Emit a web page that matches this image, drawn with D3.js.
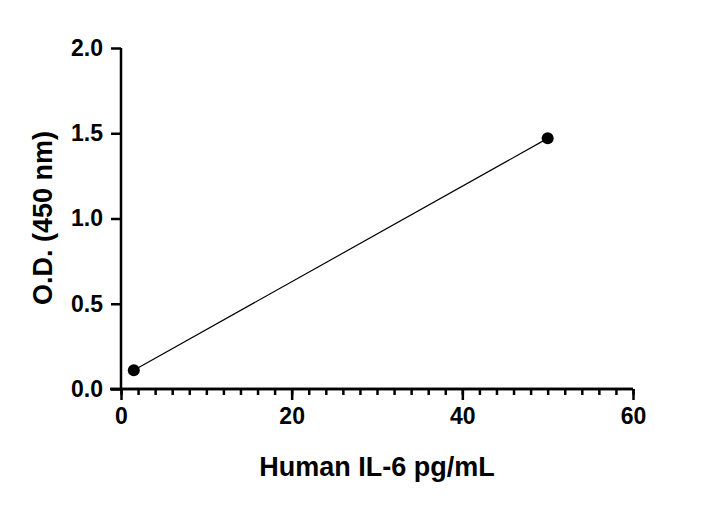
<!DOCTYPE html><html><head><script src="https://cdn.jsdelivr.net/npm/d3@7"></script>
<style>body{margin:0;background:#fff}text{font-family:Arial,"Liberation Sans",sans-serif;font-weight:bold}</style></head><body>
<svg width="715" height="507"></svg>
<script>
const concentrations=[1.5,50];
const od=[0.11,1.47];
const xTicks=[0,20,40,60];
const yTicks=[0,0.5,1.0,1.5,2.0];
const svg=d3.select("svg");
const x=d3.scaleLinear().domain([0,60]).range([121,633]);
const y=d3.scaleLinear().domain([0,2]).range([389,48]);
const gx=svg.append("g").attr("transform","translate(0,389)");
gx.call(d3.axisBottom(x).tickValues(d3.range(0,61,2)).tickFormat("").tickSize(6).tickSizeOuter(0));
gx.append("g").call(d3.axisBottom(x).tickValues(xTicks).tickFormat(d3.format("d")).tickSize(11).tickSizeOuter(0));
gx.selectAll("path.domain").attr("d","M110,0H633");
gx.selectAll("line,path").attr("stroke","#000").attr("stroke-width",2.5);
gx.selectAll("text").style("font-size","23px").attr("fill","#000").attr("y",17).attr("dy","0.8em");
const gy=svg.append("g").attr("transform","translate(121,0)");
gy.call(d3.axisLeft(y).tickValues(yTicks).tickFormat(d3.format(".1f")).tickSize(10).tickSizeOuter(0));
gy.selectAll("line,path").attr("stroke","#000").attr("stroke-width",2.5);
gy.selectAll("path.domain").attr("d","M0,389V48");
gy.selectAll("text").style("font-size","23px").attr("fill","#000").attr("x",-18);
const data=concentrations.map((c,i)=>({c,v:od[i]}));
svg.append("path").datum(data).attr("fill","none").attr("stroke","#000").attr("stroke-width",1.2)
 .attr("d",d3.line().x(d=>x(d.c)).y(d=>y(d.v)));
svg.selectAll("circle").data(data).join("circle").attr("cx",d=>x(d.c)).attr("cy",d=>y(d.v)).attr("r",6).attr("fill","#000");
svg.append("text").attr("x",377).attr("y",476).attr("text-anchor","middle").style("font-size","27px").text("Human IL-6 pg/mL");
svg.append("text").attr("transform","translate(52,218) rotate(-90)").attr("text-anchor","middle").style("font-size","27px").text("O.D. (450 nm)");
</script></body></html>
